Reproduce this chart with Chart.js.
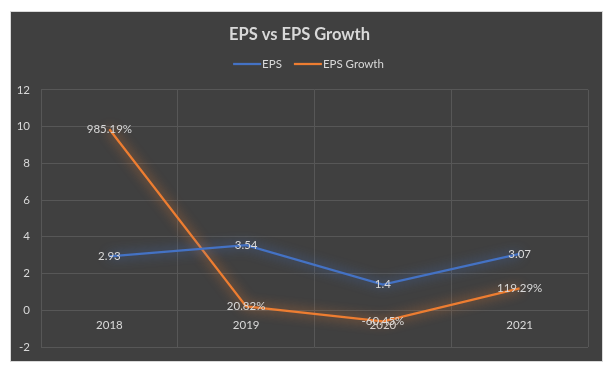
<!DOCTYPE html>
<html>
<head>
<meta charset="utf-8">
<script src="https://cdn.jsdelivr.net/npm/chart.js@4/dist/chart.umd.min.js"></script>
<style>
  body { margin: 0; background: #fff; }
  #box {
    position: absolute; left: 10px; top: 11px;
    width: 593px; height: 351px; box-sizing: border-box;
    border: 1px solid #d9d9d9; background: #404040;
  }
  canvas { display: block; }
</style>
</head>
<body>
<div id="box"><canvas id="epsChart" width="591" height="349"></canvas></div>
<script>
var years = ['2018', '2019', '2020', '2021'];
var eps = [2.93, 3.54, 1.4, 3.07];
var epsGrowth = [9.8519, 0.2082, -0.6045, 1.1929];
var epsLabels = ['2.93', '3.54', '1.4', '3.07'];
var growthLabels = ['985.19%', '20.82%', '-60.45%', '119.29%'];

var textColor = '#d9d9d9';
var gridColor = '#575757';
var labelFont = '11.5px Lato';

// soft glow behind each line
var glow = {
  id: 'glow',
  beforeDatasetDraw: function (chart, args) {
    var ctx = chart.ctx;
    ctx.save();
    ctx.shadowColor = args.meta.dataset.options.borderColor;
    ctx.shadowBlur = 12;
  },
  afterDatasetDraw: function (chart) {
    chart.ctx.restore();
  }
};

// value labels centred on the points
var pointLabels = {
  id: 'pointLabels',
  afterDatasetsDraw: function (chart) {
    var ctx = chart.ctx;
    ctx.save();
    ctx.font = labelFont;
    ctx.fillStyle = textColor;
    ctx.textAlign = 'center';
    ctx.textBaseline = 'middle';
    chart.data.datasets.forEach(function (ds, i) {
      chart.getDatasetMeta(i).data.forEach(function (pt, j) {
        ctx.fillText(ds.valueLabels[j], pt.x, pt.y);
      });
    });
    ctx.restore();
  }
};

// excel style legend: line sample with text right next to it
var lineLegend = {
  id: 'lineLegend',
  afterDraw: function (chart) {
    var ctx = chart.ctx;
    var sample = 28, gap = 1, spacing = 12, y = 52;
    ctx.save();
    ctx.font = labelFont;
    var items = chart.data.datasets.map(function (ds) {
      return { text: ds.label, color: ds.borderColor, w: ctx.measureText(ds.label).width };
    });
    var total = 0;
    items.forEach(function (it, i) { total += sample + gap + it.w + (i ? spacing : 0); });
    var x = (chart.width - total) / 2 + 2;
    ctx.textBaseline = 'middle';
    items.forEach(function (it) {
      ctx.strokeStyle = it.color;
      ctx.lineWidth = 2.25;
      ctx.beginPath();
      ctx.moveTo(x, y);
      ctx.lineTo(x + sample, y);
      ctx.stroke();
      ctx.fillStyle = textColor;
      ctx.fillText(it.text, x + sample + gap, y);
      x += sample + gap + it.w + spacing;
    });
    ctx.restore();
  }
};

new Chart(document.getElementById('epsChart').getContext('2d'), {
  type: 'line',
  data: {
    labels: years,
    datasets: [{
      label: 'EPS',
      data: eps,
      valueLabels: epsLabels,
      borderColor: '#4472c4',
      backgroundColor: '#4472c4',
      borderWidth: 2.25,
      pointRadius: 0,
      tension: 0
    }, {
      label: 'EPS Growth',
      data: epsGrowth,
      valueLabels: growthLabels,
      borderColor: '#ed7d31',
      backgroundColor: '#ed7d31',
      borderWidth: 2.25,
      pointRadius: 0,
      tension: 0
    }]
  },
  options: {
    responsive: false,
    animation: false,
    layout: { padding: { left: 0, right: 14, top: 0, bottom: 14 } },
    plugins: {
      title: {
        display: true,
        text: 'EPS vs EPS Growth',
        color: textColor,
        font: { family: 'Lato', size: 16.5, weight: 'bold' },
        padding: { top: 13, bottom: 45 }
      },
      legend: { display: false },
      tooltip: { enabled: false }
    },
    scales: {
      x: {
        position: { y: 0 },
        offset: true,
        grid: { color: gridColor, offset: true, drawTicks: false },
        border: { display: false },
        ticks: { color: textColor, font: { family: 'Lato', size: 11.5 }, padding: 8 }
      },
      y: {
        min: -2,
        max: 12,
        ticks: { stepSize: 2, color: textColor, font: { family: 'Lato', size: 11.5 }, padding: 11 },
        grid: { color: gridColor, drawTicks: false },
        border: { display: false },
        afterFit: function (s) { s.width = 30; s.paddingBottom = 0; }
      }
    }
  },
  plugins: [glow, pointLabels, lineLegend]
});
</script>
</body>
</html>
